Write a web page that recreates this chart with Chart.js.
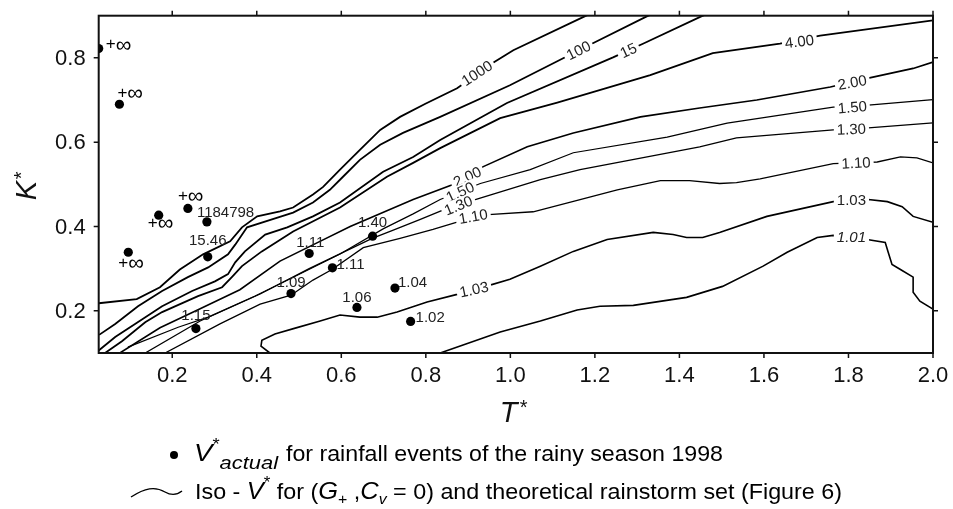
<!DOCTYPE html>
<html><head><meta charset="utf-8">
<script src="https://cdn.jsdelivr.net/npm/chart.js@4/dist/chart.umd.min.js"></script>
<style>html,body{margin:0;padding:0;background:#fff;}canvas{display:block;}</style>
</head><body>
<canvas id="c" width="953" height="509"></canvas>
<script>
// ---------- data ----------
const xTicks = [0.2,0.4,0.6,0.8,1.0,1.2,1.4,1.6,1.8,2.0];
const xTickLabels = ['0.2','0.4','0.6','0.8','1.0','1.2','1.4','1.6','1.8','2.0'];
const yTicks = [0.2,0.4,0.6,0.8];
const yTickLabels = ['0.2','0.4','0.6','0.8'];

// actual events (T*, K*, V*actual label)
const eventT = [0.026,0.075,0.096,0.168,0.237,0.282,0.284,0.256,0.481,0.524,0.579,0.674,0.637,0.727,0.764];
const eventK = [0.822,0.690,0.339,0.427,0.443,0.411,0.328,0.158,0.241,0.336,0.302,0.377,0.208,0.254,0.175];
const eventLabels = ['+∞','+∞','+∞','+∞','+∞','1184798','15.46','1.15','1.09','1.11','1.11','1.40','1.06','1.04','1.02'];

// iso-V* contour lines [T*, K*]
const iso1000 = [[0.026,0.218],[0.116,0.228],[0.171,0.256],[0.218,0.298],[0.273,0.334],[0.337,0.365],[0.365,0.398],[0.401,0.424],[0.455,0.436],[0.486,0.445],[0.533,0.476],[0.557,0.494],[0.597,0.535],[0.644,0.582],[0.692,0.629],[0.739,0.660],[0.799,0.691],[0.874,0.728],[0.962,0.790],[1.007,0.818],[1.177,0.899],[1.20,0.91]];
const iso100 = [[0.027,0.143],[0.065,0.169],[0.119,0.211],[0.176,0.247],[0.237,0.280],[0.285,0.303],[0.332,0.334],[0.349,0.357],[0.377,0.398],[0.436,0.417],[0.486,0.433],[0.533,0.457],[0.573,0.487],[0.604,0.518],[0.644,0.558],[0.692,0.594],[0.746,0.622],[0.834,0.660],[0.999,0.735],[1.125,0.799],[1.200,0.837],[1.324,0.899],[1.35,0.91]];
const iso15 = [[0.026,0.106],[0.065,0.138],[0.112,0.169],[0.176,0.211],[0.247,0.247],[0.301,0.270],[0.332,0.287],[0.349,0.315],[0.372,0.341],[0.420,0.381],[0.472,0.398],[0.533,0.424],[0.597,0.457],[0.699,0.530],[0.770,0.565],[0.834,0.605],[0.992,0.693],[1.243,0.801],[1.315,0.834],[1.453,0.899],[1.48,0.91]];
const iso4 = [[0.041,0.100],[0.081,0.128],[0.136,0.173],[0.176,0.197],[0.261,0.235],[0.318,0.256],[0.341,0.280],[0.365,0.306],[0.412,0.341],[0.486,0.388],[0.597,0.445],[0.708,0.518],[0.770,0.551],[0.834,0.586],[0.976,0.657],[1.111,0.694],[1.331,0.759],[1.479,0.811],[1.638,0.834],[1.733,0.853],[2.0,0.889]];
const iso2 = [[0.076,0.100],[0.171,0.160],[0.266,0.205],[0.360,0.250],[0.455,0.318],[0.540,0.360],[0.621,0.400],[0.770,0.464],[0.858,0.497],[0.936,0.542],[1.040,0.589],[1.149,0.622],[1.308,0.660],[1.448,0.681],[1.583,0.700],[1.757,0.731],[1.847,0.752],[1.953,0.775],[2.0,0.790]];
const iso150 = [[0.095,0.114],[0.214,0.161],[0.285,0.185],[0.396,0.235],[0.491,0.282],[0.597,0.335],[0.700,0.395],[0.770,0.430],[0.834,0.464],[0.929,0.502],[1.047,0.535],[1.149,0.575],[1.371,0.612],[1.513,0.645],[1.764,0.683],[1.847,0.688],[2.0,0.701]];
const iso130 = [[0.136,0.100],[0.266,0.176],[0.408,0.240],[0.524,0.300],[0.673,0.372],[0.720,0.390],[0.787,0.417],[0.846,0.441],[0.917,0.464],[1.071,0.511],[1.165,0.535],[1.448,0.589],[1.535,0.610],[1.764,0.629],[1.847,0.634],[2.0,0.646]];
const iso110 = [[0.183,0.100],[0.313,0.169],[0.408,0.216],[0.481,0.237],[0.533,0.273],[0.578,0.298],[0.652,0.350],[0.739,0.372],[0.817,0.393],[0.870,0.409],[0.948,0.428],[1.054,0.435],[1.165,0.464],[1.253,0.487],[1.355,0.509],[1.424,0.509],[1.495,0.502],[1.535,0.504],[1.591,0.513],[1.764,0.549],[1.868,0.553],[1.923,0.565],[1.962,0.563],[2.0,0.551]];
const iso103 = [[0.431,0.100],[0.410,0.116],[0.412,0.130],[0.443,0.145],[0.491,0.159],[0.550,0.176],[0.597,0.190],[0.644,0.185],[0.685,0.185],[0.732,0.197],[0.803,0.221],[0.874,0.239],[0.952,0.261],[0.999,0.275],[1.071,0.306],[1.149,0.341],[1.229,0.369],[1.338,0.386],[1.385,0.381],[1.417,0.374],[1.455,0.374],[1.495,0.386],[1.607,0.424],[1.764,0.459],[1.847,0.464],[1.892,0.459],[1.927,0.447],[1.953,0.424],[2.0,0.410]];
const iso101 = [[0.834,0.100],[0.976,0.150],[1.071,0.176],[1.158,0.202],[1.212,0.211],[1.291,0.213],[1.417,0.232],[1.502,0.258],[1.598,0.306],[1.655,0.339],[1.726,0.374],[1.764,0.379],[1.844,0.369],[1.887,0.362],[1.894,0.339],[1.903,0.310],[1.923,0.298],[1.953,0.280],[1.953,0.244],[1.969,0.223],[2.0,0.204]];

// contour labels: text, T*, K*
const isoLabelText = ['1000','100','15','4.00','2.00','2.00','1.50','1.50','1.30','1.30','1.10','1.10','1.03','1.03','1.01'];
const isoLabelT = [0.921,1.161,1.279,1.684,1.809,0.898,1.809,0.881,1.807,0.877,1.818,0.912,1.807,0.914,1.807];
const isoLabelK = [0.764,0.818,0.818,0.839,0.742,0.518,0.683,0.482,0.631,0.450,0.551,0.424,0.464,0.251,0.376];

// ---------- styles ----------
const isoLabelAngle = [-33,-26,-25,-7,-10,-25,-5,-25,-2,-22,-3,-10,0,-12,0];
const eventLabelStyle = [[7,-4,'left'],[-2,-11,'left'],[-10,11,'left'],[-11,8,'left'],[-10,-12,'left'],[-10,-9,'left'],[0,-16,'center'],[0,-13,'center'],[0,-11,'center'],[1,-11,'center'],[4,-3,'left'],[0,-13,'center'],[0,-10,'center'],[3,-5,'left'],[5,-4,'left']];

const lines = [iso1000,iso100,iso15,iso4,iso2,iso150,iso130,iso110,iso103,iso101];
const lineW = [1.8,1.8,1.8,1.8,1.6,1.2,1.3,1.3,1.6,1.6];
const toXY = a => a.map(p => ({x:p[0], y:p[1]}));

const datasets = [{
  label:'events', data: eventT.map((t,i)=>({x:t,y:eventK[i]})),
  pointRadius:4.6, pointBackgroundColor:'#000', pointBorderWidth:0, showLine:false
}];
lines.forEach((l,i)=>datasets.push({label:'iso'+i, data:toXY(l), showLine:true, borderColor:'#000', borderWidth:lineW[i], pointRadius:0, tension:0, fill:false}));

const SANS = '"Liberation Sans", Arial, sans-serif';

function runs(ctx, parts, x0, base, target){
  let w=0; parts.forEach(p=>{ctx.font=p.f; w+=ctx.measureText(p.t).width;});
  const s = target? target/w : 1;
  ctx.save(); ctx.translate(x0, base); ctx.scale(s,1);
  let x=0; parts.forEach(p=>{ctx.font=p.f; ctx.fillText(p.t, x, p.dy||0); x+=ctx.measureText(p.t).width;});
  ctx.restore();
}

const deco = {
  id:'deco',
  afterDatasetsDraw(chart){
    const {ctx, chartArea:a, scales:{x,y}} = chart;
    ctx.save();
    // contour labels
    ctx.textAlign='center'; ctx.textBaseline='middle';
    isoLabelText.forEach((t,i)=>{
      const px=x.getPixelForValue(isoLabelT[i]), py=y.getPixelForValue(isoLabelK[i]);
      ctx.save(); ctx.translate(px,py); ctx.rotate(isoLabelAngle[i]*Math.PI/180);
      ctx.font = (t==='1.01'?'italic ':'')+'15px '+SANS;
      const w=ctx.measureText(t).width;
      ctx.fillStyle='#fff'; ctx.fillRect(-w/2-3,-7,w+6,14);
      ctx.fillStyle='#222'; ctx.fillText(t,0,1);
      ctx.restore();
    });
    // event labels
    ctx.textBaseline='middle'; ctx.fillStyle='#222';
    eventLabels.forEach((t,i)=>{
      const px=x.getPixelForValue(eventT[i])+eventLabelStyle[i][0], py=y.getPixelForValue(eventK[i])+eventLabelStyle[i][1];
      if(t==='+∞'){
        ctx.textAlign='left'; ctx.fillStyle='#000';
        ctx.font='17px '+SANS; ctx.fillText('+',px,py);
        const w=ctx.measureText('+').width;
        ctx.font='22px '+SANS; ctx.fillText('∞',px+w,py+1);
        ctx.fillStyle='#222';
      } else {
        ctx.textAlign=eventLabelStyle[i][2]; ctx.font='15px '+SANS; ctx.fillText(t,px,py);
      }
    });
    // frame
    ctx.strokeStyle='#111'; ctx.lineWidth=2;
    ctx.strokeRect(a.left,a.top,a.right-a.left,a.bottom-a.top);
    ctx.lineWidth=1.5; ctx.beginPath();
    xTicks.forEach(v=>{const p=x.getPixelForValue(v); ctx.moveTo(p,a.bottom); ctx.lineTo(p,a.bottom+5); ctx.moveTo(p,a.top); ctx.lineTo(p,a.top-5);});
    yTicks.forEach(v=>{const p=y.getPixelForValue(v); ctx.moveTo(a.left,p); ctx.lineTo(a.left-5,p); ctx.moveTo(a.right,p); ctx.lineTo(a.right+5,p);});
    ctx.stroke();
    // tick labels
    ctx.fillStyle='#111'; ctx.font='22px '+SANS;
    ctx.textAlign='center'; ctx.textBaseline='middle';
    xTicks.forEach((v,i)=>ctx.fillText(xTickLabels[i], x.getPixelForValue(v), a.bottom+23));
    ctx.textAlign='right';
    yTicks.forEach((v,i)=>ctx.fillText(yTickLabels[i], a.left-13, y.getPixelForValue(v)+1));
    // axis titles
    ctx.textAlign='left'; ctx.textBaseline='alphabetic';
    ctx.font='italic 29px '+SANS; ctx.fillText('T',(a.left+a.right)/2-16,422);
    ctx.font='20px '+SANS; ctx.fillText('*',(a.left+a.right)/2+4,414);
    ctx.save(); ctx.translate(36,(a.top+a.bottom)/2+6); ctx.rotate(-Math.PI/2);
    ctx.font='italic 29px '+SANS; ctx.fillText('K',-10,0);
    ctx.font='20px '+SANS; ctx.fillText('*',11,-8);
    ctx.restore();
    // legend
    ctx.fillStyle='#000';
    ctx.beginPath(); ctx.arc(174,455,4,0,Math.PI*2); ctx.fill();
    runs(ctx,[{t:'V',f:'italic 24px '+SANS},{t:'*',f:'16px '+SANS,dy:-11},{t:'actual',f:'italic 19px '+SANS,dy:8}],194,461,84);
    runs(ctx,[{t:'for rainfall events of the rainy season 1998',f:'22px '+SANS}],286,461,437);
    ctx.lineWidth=1.4; ctx.strokeStyle='#000'; ctx.beginPath();
    ctx.moveTo(131,497); ctx.bezierCurveTo(145,488,155,486,165,492); ctx.bezierCurveTo(172,496,177,495,182,491); ctx.stroke();
    runs(ctx,[{t:'Iso - ',f:'22px '+SANS},{t:'V',f:'italic 24px '+SANS},{t:'*',f:'16px '+SANS,dy:-11},{t:' for (',f:'22px '+SANS},{t:'G',f:'italic 24px '+SANS},{t:'+',f:'15px '+SANS,dy:5},{t:' ,',f:'22px '+SANS},{t:'C',f:'italic 24px '+SANS},{t:'v',f:'italic 15px '+SANS,dy:5},{t:' = 0) and theoretical rainstorm set (Figure 6)',f:'22px '+SANS}],195,499,647);
    ctx.restore();
  }
};

new Chart(document.getElementById('c'),{
  type:'scatter',
  data:{datasets},
  options:{
    responsive:false, animation:false, devicePixelRatio:1,
    layout:{padding:{left:98.7,top:15.7,right:20,bottom:156}},
    plugins:{legend:{display:false},tooltip:{enabled:false}},
    scales:{
      x:{type:'linear',min:0.026,max:2.0,display:false},
      y:{type:'linear',min:0.1,max:0.9,display:false}
    }
  },
  plugins:[deco]
});
</script></body></html>
